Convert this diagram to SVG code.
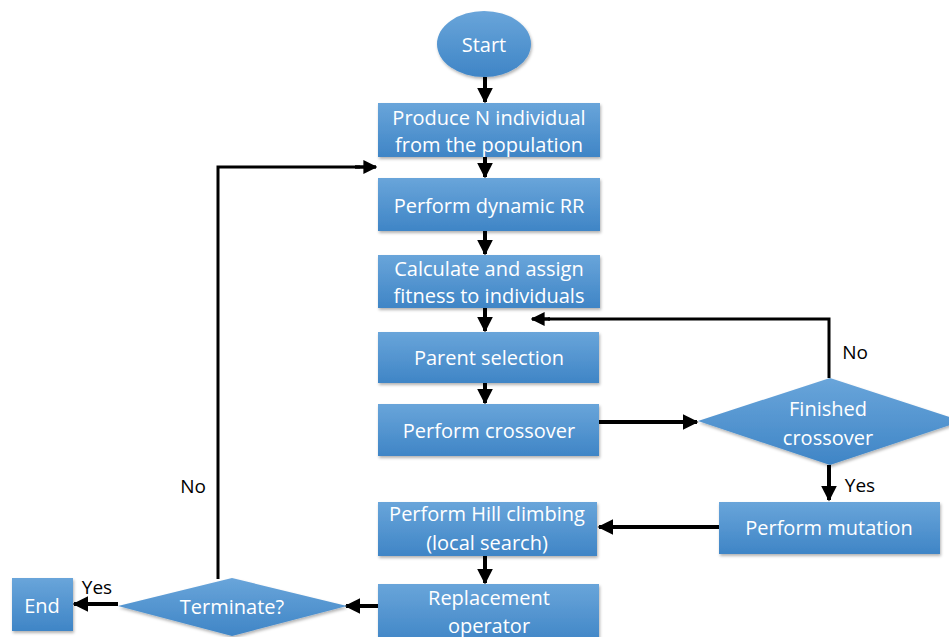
<svg xmlns="http://www.w3.org/2000/svg" width="949" height="637" viewBox="0 0 949 637">
<defs>
<linearGradient id="g" x1="0" y1="0" x2="0" y2="1">
<stop offset="0" stop-color="#69a5da"/>
<stop offset="1" stop-color="#3f85c6"/>
</linearGradient>
<filter id="sh" x="-10%" y="-10%" width="120%" height="130%">
<feDropShadow dx="1" dy="2" stdDeviation="1.5" flood-color="#000" flood-opacity="0.3"/>
</filter>
<marker id="ah" viewBox="0 0 10 10" refX="9" refY="5" markerWidth="4" markerHeight="4" orient="auto" markerUnits="strokeWidth">
<path d="M0,0 L10,5 L0,10 z" fill="#000"/>
</marker>
</defs>
<style>
.n{fill:url(#g);filter:url(#sh)}
.t{fill:#fff;font-family:"Open Sans","Liberation Sans",sans-serif;font-size:20px;text-anchor:middle;dominant-baseline:central}
.l{fill:#000;font-family:"Open Sans","Liberation Sans",sans-serif;font-size:19px;text-anchor:middle;dominant-baseline:central}
.c{stroke:#000;stroke-width:4;fill:none;marker-end:url(#ah)}
.p{stroke:#000;stroke-width:3;fill:none}
</style>
<rect width="949" height="637" fill="#fff"/>
<g id="connectors">
<line class="c" x1="485" y1="77" x2="485" y2="102"/>
<line class="c" x1="485" y1="157" x2="485" y2="177"/>
<line class="c" x1="485" y1="231" x2="485" y2="254"/>
<line class="c" x1="485" y1="308" x2="485" y2="331"/>
<line class="c" x1="485" y1="383" x2="485" y2="403"/>
<line class="c" x1="599" y1="422" x2="697" y2="422"/>
<polyline class="p" points="829,378 829,319 548,319"/>
<line class="c" x1="550" y1="319" x2="532" y2="319" style="stroke-width:3.5"/>
<line class="c" x1="829" y1="465" x2="829" y2="500"/>
<line class="c" x1="719" y1="527" x2="599" y2="527"/>
<line class="c" x1="485" y1="556" x2="485" y2="583"/>
<line class="c" x1="380" y1="606" x2="346" y2="606"/>
<line class="c" x1="118" y1="604" x2="74" y2="604"/>
<polyline class="p" points="218,579 218,167 360,167"/>
<line class="c" x1="355" y1="167" x2="376" y2="167" style="stroke-width:3.5"/>
<text class="l" x="855" y="352">No</text>
<text class="l" x="860" y="485">Yes</text>
<text class="l" x="97" y="587">Yes</text>
<text class="l" x="193" y="486">No</text>
</g>
<g id="start">
<ellipse class="n" cx="484" cy="44" rx="47" ry="33"/>
<text class="t" x="484" y="44">Start</text>
</g>
<g id="produce">
<rect class="n" x="378" y="103" width="222" height="54"/>
<text class="t" x="489" y="117">Produce N individual</text>
<text class="t" x="489" y="144">from the population</text>
</g>
<g id="dynamic">
<rect class="n" x="378" y="178" width="222" height="53"/>
<text class="t" x="489" y="205">Perform dynamic RR</text>
</g>
<g id="fitness">
<rect class="n" x="378" y="255" width="222" height="53"/>
<text class="t" x="489" y="268">Calculate and assign</text>
<text class="t" x="489" y="295">fitness to individuals</text>
</g>
<g id="parent">
<rect class="n" x="378" y="332" width="221" height="51"/>
<text class="t" x="489" y="357">Parent selection</text>
</g>
<g id="crossover">
<rect class="n" x="378" y="404" width="221" height="52"/>
<text class="t" x="489" y="430">Perform crossover</text>
</g>
<g id="finished">
<polygon class="n" points="698,421 830,378 962,421 830,465"/>
<text class="t" x="828" y="408">Finished</text>
<text class="t" x="828" y="437">crossover</text>
</g>
<g id="mutation">
<rect class="n" x="719" y="502" width="221" height="52"/>
<text class="t" x="829" y="527">Perform mutation</text>
</g>
<g id="hill">
<rect class="n" x="378" y="502" width="219" height="54"/>
<text class="t" x="487" y="513">Perform Hill climbing</text>
<text class="t" x="487" y="542">(local search)</text>
</g>
<g id="replacement">
<rect class="n" x="378" y="584" width="221" height="60"/>
<text class="t" x="489" y="597">Replacement</text>
<text class="t" x="489" y="625">operator</text>
</g>
<g id="terminate">
<polygon class="n" points="118,606 232,578 347,606 232,636"/>
<text class="t" x="232" y="606">Terminate?</text>
</g>
<g id="end">
<rect class="n" x="12" y="578" width="61" height="53"/>
<text class="t" x="42" y="605">End</text>
</g>
</svg>
